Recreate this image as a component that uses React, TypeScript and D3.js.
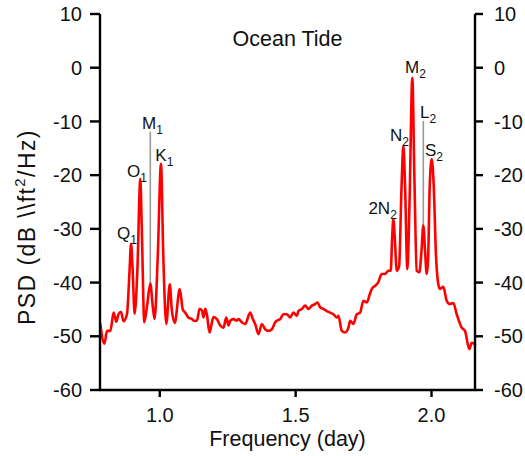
import React from 'react';
import * as d3 from 'd3';

// Frequency (cycles/day) and PSD (dB)
const FREQ = [
  0.7810, 0.7960, 0.8059, 0.8180, 0.8301, 0.8401, 0.8485, 0.8574, 0.8669, 0.8794,
  0.8890, 0.8941, 0.9000, 0.9074, 0.9173, 0.9283, 0.9338, 0.9430, 0.9540, 0.9651,
  0.9743, 0.9809, 0.9926, 1.0044, 1.0129, 1.0239, 1.0368, 1.0441, 1.0551, 1.0735,
  1.0846, 1.0938, 1.1048, 1.1184, 1.1243, 1.1368, 1.1463, 1.1552, 1.1611, 1.1673,
  1.1735, 1.1831, 1.1919, 1.1978, 1.2103, 1.2224, 1.2346, 1.2445, 1.2529, 1.2592,
  1.2713, 1.2838, 1.2897, 1.3022, 1.3143, 1.3327, 1.3426, 1.3511, 1.3632, 1.3757,
  1.3879, 1.4000, 1.4125, 1.4246, 1.4309, 1.4430, 1.4552, 1.4677, 1.4798, 1.4919,
  1.5044, 1.5103, 1.5228, 1.5349, 1.5471, 1.5596, 1.5717, 1.5802, 1.5901, 1.6022,
  1.6147, 1.6268, 1.6390, 1.6515, 1.6574, 1.6699, 1.6820, 1.6941, 1.7004, 1.7125,
  1.7250, 1.7371, 1.7493, 1.7618, 1.7739, 1.7801, 1.7923, 1.8033, 1.8169, 1.8290,
  1.8412, 1.8500, 1.8548, 1.8596, 1.8651, 1.8721, 1.8806, 1.8898, 1.8964, 1.9026,
  1.9111, 1.9191, 1.9294, 1.9368, 1.9456, 1.9551, 1.9632, 1.9698, 1.9761, 1.9824,
  1.9872, 1.9934, 2.0007, 2.0081, 2.0165, 2.0250, 2.0313, 2.0434, 2.0559, 2.0680,
  2.0802, 2.0927, 2.1111, 2.1232, 2.1390, 2.1478, 2.1600,
];
const PSD = [
  -47.7, -51.4, -49.0, -49.0, -45.6, -47.3, -45.8, -45.5, -47.2, -45.8,
  -37.5, -32.8, -37.5, -45.8, -38.0, -20.7, -30.0, -47.4, -44.0, -40.2,
  -44.5, -46.8, -35.0, -17.9, -35.0, -47.7, -40.3, -45.0, -47.5, -41.2,
  -45.0, -45.6, -46.5, -46.8, -47.1, -47.1, -44.9, -45.2, -46.5, -44.9,
  -46.0, -49.3, -47.4, -46.4, -46.8, -48.0, -48.4, -46.5, -48.0, -47.1,
  -46.8, -47.1, -46.8, -47.4, -47.7, -45.6, -46.8, -47.7, -49.6, -47.7,
  -48.7, -49.0, -48.7, -47.4, -47.1, -46.8, -45.9, -45.9, -46.5, -45.6,
  -46.2, -45.3, -44.9, -44.3, -44.9, -44.3, -44.0, -43.7, -44.6, -44.9,
  -45.3, -45.6, -45.9, -46.5, -46.2, -49.0, -49.3, -48.4, -47.1, -47.7,
  -45.9, -45.6, -43.4, -43.7, -42.0, -41.2, -40.6, -40.0, -38.4, -38.4,
  -37.8, -37.8, -32.0, -28.2, -32.0, -37.8, -37.0, -22.0, -14.5, -22.0,
  -37.5, -25.0, -1.9, -20.0, -37.8, -38.1, -34.0, -29.4, -34.0, -38.4,
  -36.0, -22.0, -17.0, -22.0, -35.0, -40.3, -41.2, -40.8, -43.4, -44.0,
  -43.8, -45.9, -48.4, -49.0, -52.4, -51.2, -51.5,
];

const X_TICKS = [1.0, 1.5, 2.0];
const Y_TICKS = [10, 0, -10, -20, -30, -40, -50, -60];

// Constituent labels: text, subscript, text start frequency, baseline dB
const LABEL_MAIN = ['Q', 'O', 'M', 'K', '2N', 'N', 'M', 'L', 'S'];
const LABEL_SUB = ['1', '1', '1', '1', '2', '2', '2', '2', '2'];
const LABEL_FREQ = [0.8427, 0.8794, 0.9346, 0.9835, 1.7677, 1.8474, 1.9026, 1.9577, 1.9761];
const LABEL_DB = [-31.8, -20.3, -11.4, -17.3, -27.2, -13.6, -0.9, -9.3, -16.4];

// Gray marker lines (M1, L2)
const MARKER_FREQ = [0.9651, 1.9698];
const MARKER_TOP = [-11.9, -9.9];
const MARKER_BOTTOM = [-40.2, -29.4];

const FONT = '"Liberation Sans", Arial, Helvetica, sans-serif';

export default function App() {
  const W = 525;
  const H = 456;
  const left = 100;
  const right = 475;
  const top = 14;
  const bottom = 390;

  const x = d3.scaleLinear().domain([0.78, 2.16]).range([left, right]);
  const y = d3.scaleLinear().domain([-60, 10]).range([bottom, top]);

  const pts: [number, number][] = FREQ.map((f, i) => [f, PSD[i]]);
  const line = d3
    .line<[number, number]>()
    .x((d) => x(d[0]))
    .y((d) => y(d[1]))
    .curve(d3.curveMonotoneX);

  return (
    <svg
      width={W}
      height={H}
      style={{ position: 'absolute', left: 0, top: 0, background: '#fff' }}
      fontFamily={FONT}
    >
      {/* gray marker lines */}
      {MARKER_FREQ.map((f, i) => (
        <line
          key={'m' + i}
          x1={x(f)}
          x2={x(f)}
          y1={y(MARKER_TOP[i])}
          y2={y(MARKER_BOTTOM[i])}
          stroke="#9a9a9a"
          strokeWidth={1.6}
        />
      ))}

      {/* PSD curve */}
      <path
        d={line(pts) || ''}
        fill="none"
        stroke="#ff0000"
        strokeWidth={2.6}
        strokeLinejoin="round"
        strokeLinecap="round"
      />

      {/* axes lines */}
      <line x1={left} x2={left} y1={top} y2={bottom} stroke="#000" strokeWidth={2.4} />
      <line x1={right} x2={right} y1={top} y2={bottom} stroke="#000" strokeWidth={2.4} />
      <line x1={left - 1.2} x2={right + 1.2} y1={bottom} y2={bottom} stroke="#000" strokeWidth={2.4} />

      {/* y ticks */}
      {Y_TICKS.map((t) => (
        <g key={'y' + t}>
          <line x1={left - 10} x2={left} y1={y(t)} y2={y(t)} stroke="#000" strokeWidth={2.4} />
          <line x1={right} x2={right + 8} y1={y(t)} y2={y(t)} stroke="#000" strokeWidth={2.4} />
          <text x={left - 18} y={y(t)} dy="0.36em" textAnchor="end" fontSize={20} fill="#111">
            {t}
          </text>
          <text x={right + 19} y={y(t)} dy="0.36em" textAnchor="start" fontSize={20} fill="#111">
            {t}
          </text>
        </g>
      ))}

      {/* x ticks */}
      {X_TICKS.map((t) => (
        <g key={'x' + t}>
          <line x1={x(t)} x2={x(t)} y1={bottom} y2={bottom + 7} stroke="#000" strokeWidth={2.4} />
          <text x={x(t)} y={422} textAnchor="middle" fontSize={20} fill="#111">
            {t.toFixed(1)}
          </text>
        </g>
      ))}

      {/* axis titles */}
      <text x={(left + right) / 2} y={446} textAnchor="middle" fontSize={21.5} fill="#111">
        Frequency (day)
      </text>
      <text
        transform={`translate(35,227) rotate(-90)`}
        textAnchor="middle"
        fontSize={23}
        letterSpacing={1.4}
        fill="#111"
      >
        PSD (dB \\ft<tspan fontSize={15} dy={-10}>2</tspan>
        <tspan dy={10}>/Hz)</tspan>
      </text>

      {/* title */}
      <text x={(left + right) / 2} y={46} textAnchor="middle" fontSize={21.5} fill="#111">
        Ocean Tide
      </text>

      {/* constituent labels */}
      {LABEL_MAIN.map((m, i) => (
        <text key={'l' + i} x={x(LABEL_FREQ[i])} y={y(LABEL_DB[i])} fontSize={17} fill="#111">
          {m}
          <tspan fontSize={12} dy={5}>
            {LABEL_SUB[i]}
          </tspan>
        </text>
      ))}
    </svg>
  );
}
